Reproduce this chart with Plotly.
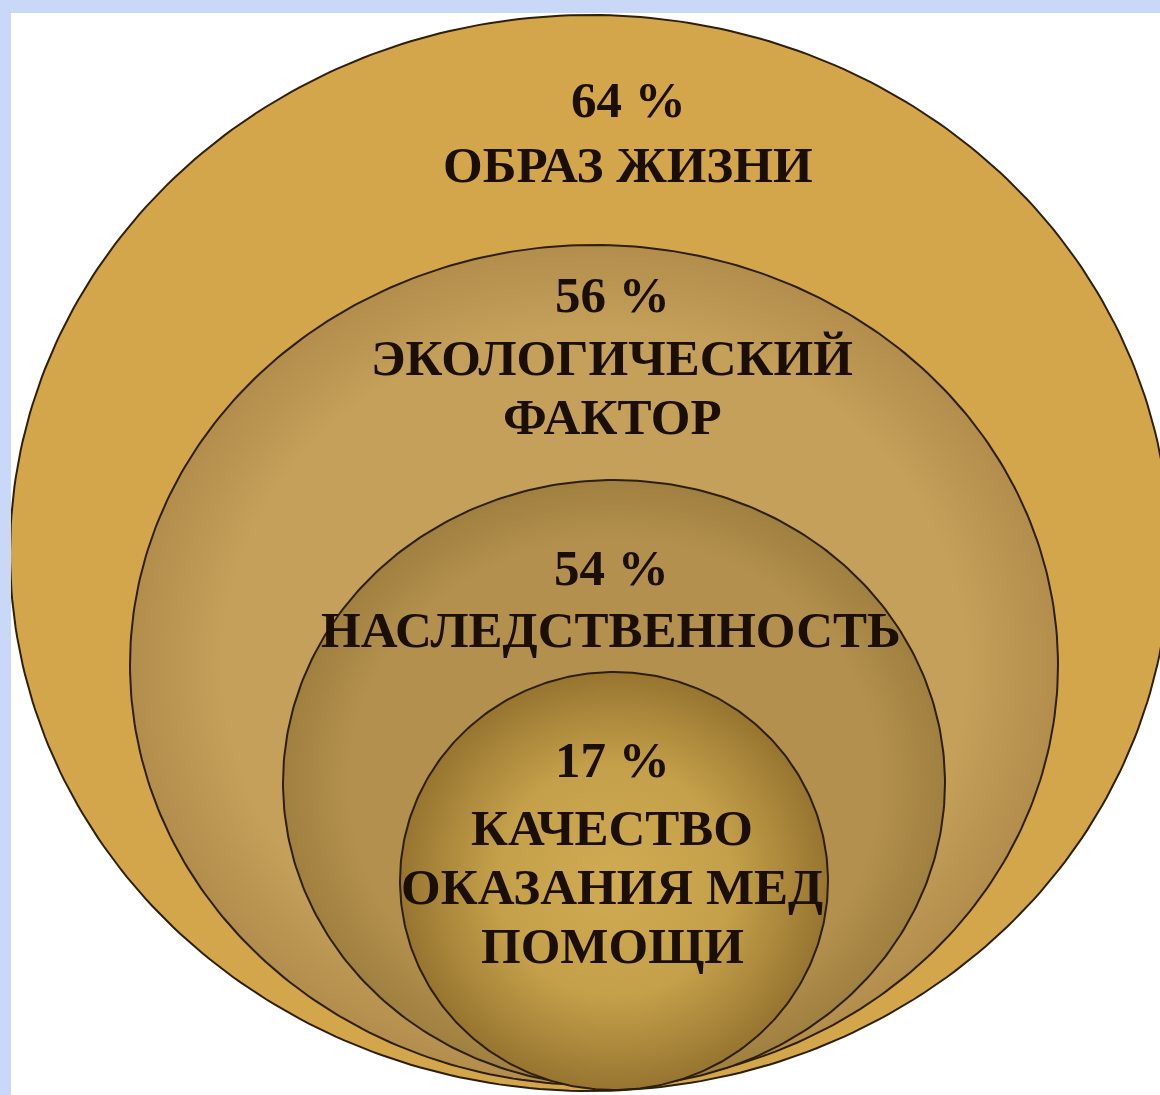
import numpy as np
import plotly.graph_objects as go

# ---- data ----
percents = ["64 %", "56 %", "54 %", "17 %"]
labels = ["ОБРАЗ ЖИЗНИ", "ЭКОЛОГИЧЕСКИЙ<br>ФАКТОР", "НАСЛЕДСТВЕННОСТЬ",
          "КАЧЕСТВО<br>ОКАЗАНИЯ МЕД<br>ПОМОЩИ"]

# ---- layout geometry (pixel-like data units) ----
cx = [590, 594, 614, 614]
cy = [553, 665, 783, 881]
rx = [580, 464, 331, 214]
ry = [538, 420, 303, 209]
text_x = [628, 612, 611, 612]
pct_y = [100, 295, 568, 760]
label_y0 = [165, 358, 630, 828]
line_step = 59
fills = ["#d3a64c", "#c5a05a", "#b3904d", "#c4a04a"]
edges = [None, "#b28d4c", "#a08040", "#977530"]

fig = go.Figure()
t = np.linspace(0, 2 * np.pi, 361)
for i in range(4):
    xs = cx[i] + rx[i] * np.cos(t)
    ys = cy[i] + ry[i] * np.sin(t)
    if i == 0:
        fill_kw = dict(fillcolor=fills[i])
    elif i == 3:
        fill_kw = dict(fillgradient=dict(type="radial",
                       colorscale=[[0, "#d0ab52"], [0.55, fills[i]], [1, edges[i]]]))
    else:
        fill_kw = dict(fillgradient=dict(type="radial",
                       colorscale=[[0, fills[i]], [0.8, fills[i]], [1, edges[i]]]))
    fig.add_trace(go.Scatter(x=xs, y=ys, mode="lines", fill="toself",
                             line=dict(color="#2e1f0a", width=2),
                             hoverinfo="skip", showlegend=False, **fill_kw))

font = dict(family="Liberation Serif", size=51, color="#1a0e05")
for i in range(4):
    fig.add_annotation(x=text_x[i], y=pct_y[i], text="<b>" + percents[i] + "</b>",
                       showarrow=False, font=font, xanchor="center", yanchor="middle")
    for j, line in enumerate(labels[i].split("<br>")):
        fig.add_annotation(x=text_x[i], y=label_y0[i] + j * line_step,
                           text="<b>" + line + "</b>",
                           showarrow=False, font=font, xanchor="center", yanchor="middle")

fig.update_layout(
    width=1160, height=1095,
    margin=dict(l=11, r=0, t=13, b=0),
    paper_bgcolor="#c8d8f6",
    plot_bgcolor="#ffffff",
    xaxis=dict(range=[11, 1160], visible=False, fixedrange=True),
    yaxis=dict(range=[1095, 13], visible=False, fixedrange=True),
)
fig.write_html("out.html")
